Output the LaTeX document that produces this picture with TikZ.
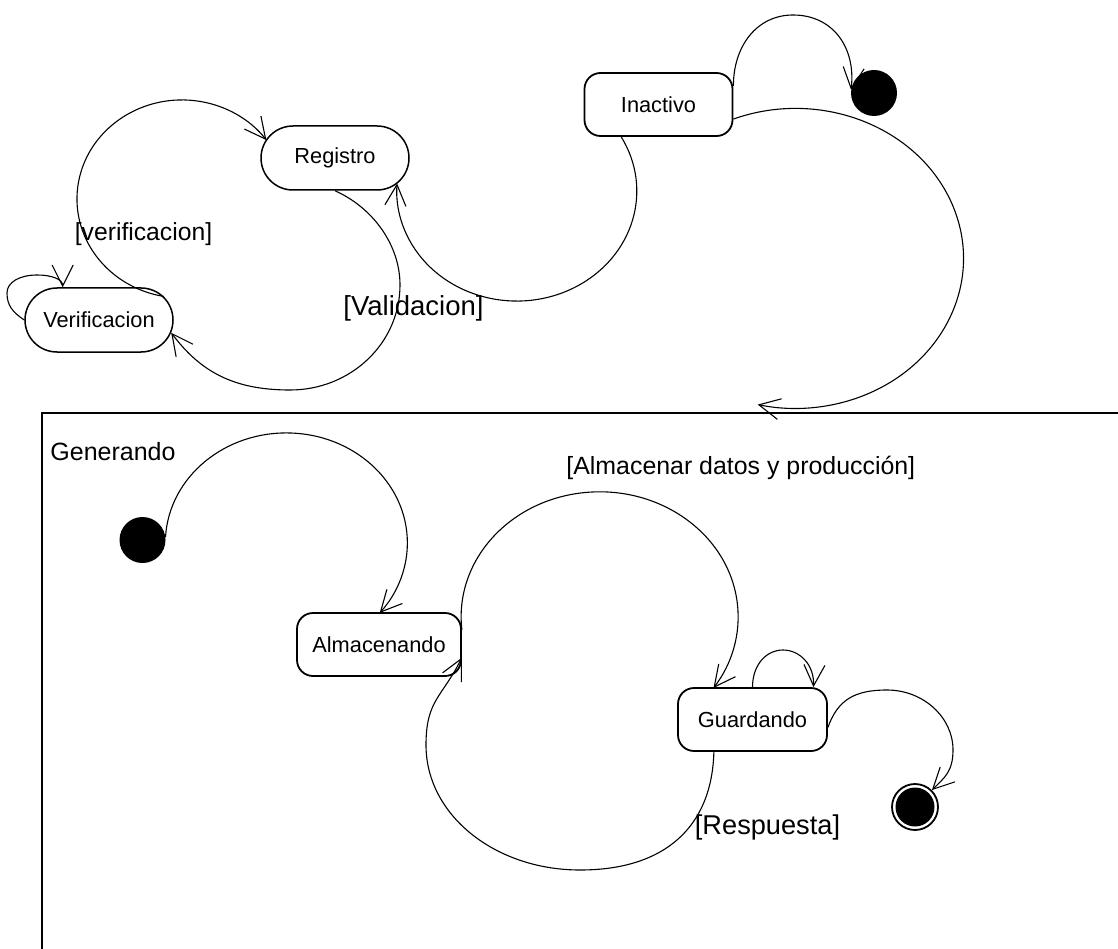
\documentclass[tikz,border=0pt]{standalone}
\usepackage{fontspec}
\setmainfont{Liberation Sans}
\usetikzlibrary{shapes.misc,arrows.meta}

\begin{document}
\begin{tikzpicture}[x=1pt,y=-1pt,
  stbox/.style={draw, line width=1.8pt, rounded corners=16pt, minimum width=#1,
    minimum height=63pt, inner sep=0pt, font=\fontsize{21.8}{26}\selectfont},
  pill/.style={draw, line width=1.5pt, rounded rectangle, minimum width=148pt,
    minimum height=64pt, inner sep=0pt, font=\fontsize{21.8}{26}\selectfont},
  startdot/.style={circle, fill=black, minimum size=46pt, inner sep=0pt},
  enddot/.style={circle, draw, line width=1.8pt, fill=white, minimum size=46pt, inner sep=0pt},
  trans/.style={line width=1.1pt, line join=round,
    -{Straight Barb[length=21pt,width=21pt,line width=1.1pt]}},
  glabel/.style={inner sep=0pt, font=\fontsize{#1}{#1}\selectfont},
]
\useasboundingbox (0,0) rectangle (1118,949);

% composite state "Generando"
\draw[line width=2pt] (42,949) -- (42,413) -- (1118,413);

% states
\node[pill] (reg) at (335,158) {Registro};
\node[pill] (ver) at (99,320) {Verificacion};
\node[stbox=148pt] (ina) at (658.5,104.5) {Inactivo};
\node[startdot] (dot1) at (874,93) {};
\node[stbox=164pt] (alm) at (379,644.5) {Almacenando};
\node[stbox=149pt] (gua) at (752.5,719.5) {Guardando};
\node[startdot] (dot2) at (142.5,540) {};
\node[enddot] (fin) at (915,807) {};
\fill (fin.center) circle[radius=19.5];

% upper transitions
\draw[trans] (ver.20) arc[start angle=100, end angle=323.5, x radius=105, y radius=99];
\draw[trans] (reg.south) .. controls +(38,17) and +(0,-40) .. (400,285)
  .. controls +(0,58) and +(61,0) .. (290,390)
  .. controls +(-55,0) and +(30,40) .. (ver.-10);
\draw[trans] (ina.221) arc[start angle=330.5, end angle=544, x radius=120, y radius=110];
\draw[trans] (ina.14) .. controls +(0,-40) and +(-36,0) .. (793,15)
  .. controls +(40,0) and +(5,-42) .. (dot1.172);
\draw[trans] (ina.-11) arc[start angle=248.3, end angle=463, x radius=168, y radius=150]
  coordinate (genin);
\draw[trans] (ver.west) .. controls +(-12,-8) and +(0,12) .. (7,293)
  .. controls +(0,-11) and +(-17,0) .. (37,275)
  .. controls +(15,0) and +(0,-8) .. (ver.138);

% lower transitions
\draw[trans] (dot2.7) arc[start angle=183, end angle=399.5, x radius=121, y radius=110];
\draw[trans] (alm.10) arc[start angle=174, end angle=394.7, x radius=138.5, y radius=125];
\draw[trans] (gua.220) .. controls +(-2,75) and +(85,0) .. (580,870)
  .. controls +(-85,0) and +(0,70) .. (426,745)
  .. controls +(0,-45) and +(-20,40) .. (alm.-9);
\draw[trans] (gua.north) .. controls +(0,-22) and +(-17,0) .. (783,650)
  .. controls +(17,0) and +(1,-22) .. (gua.28);
\draw[trans] (gua.-6) .. controls +(10,-28) and +(-32,0) .. (887,690)
  .. controls +(36,0) and +(0,-33) .. (953,750)
  .. controls +(0,22) and +(12,-12) .. (fin.45);

% guards and labels
\node[glabel=24.7] (lverif) at (143.5,234) {[verificacion]};
\node[glabel=27.5] (lvalid) at (413.5,308) {[Validacion]};
\node[glabel=25] (lgen) at (113,452) {Generando};
\node[glabel=24.9] (lalm) at (740.8,468) {[Almacenar datos y producción]};
\node[glabel=27.2] (lresp) at (767.5,827) {[Respuesta]};
\end{tikzpicture}
\end{document}
